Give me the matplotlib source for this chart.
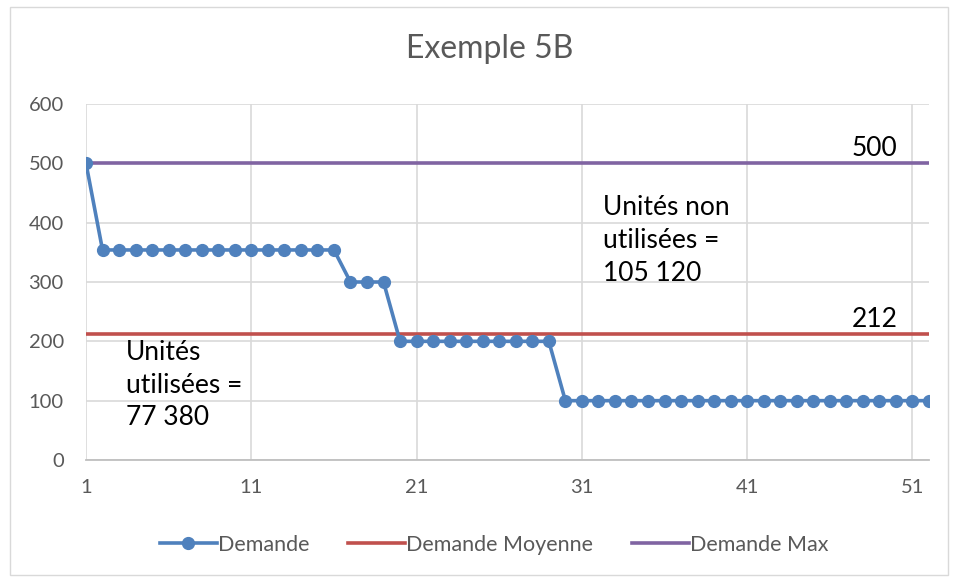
import matplotlib
matplotlib.use("Agg")
import matplotlib.pyplot as plt
from matplotlib.patches import Rectangle

plt.rcParams['font.family'] = ['Lato', 'DejaVu Sans']

semaines = list(range(1, 53))
demande = [500] + [354] * 15 + [300] * 3 + [200] * 10 + [100] * 23
demande_moyenne = [212] * 52
demande_max = [500] * 52
x_ticks = [1, 11, 21, 31, 41, 51]
y_ticks = [0, 100, 200, 300, 400, 500, 600]

blue = '#4F81BD'
red = '#C0504D'
purple = '#8064A2'
txt = '#595959'

fig = plt.figure(figsize=(9.56, 5.77), dpi=100)
ax = fig.add_axes([86/956, 1 - 460/577, (929-86)/956, (460-104)/577])

ax.plot(semaines, demande_max, color=purple, lw=2.6, label='Demande Max', zorder=2)
ax.plot(semaines, demande_moyenne, color=red, lw=2.6, label='Demande Moyenne', zorder=2)
ax.plot(semaines, demande, color=blue, lw=2.6, marker='o', ms=8.5, label='Demande', zorder=3)

ax.set_xlim(1, 52)
ax.set_ylim(0, 600)
ax.set_xticks(x_ticks)
ax.set_yticks(y_ticks)
ax.grid(True, color='#D9D9D9', lw=1.2, zorder=0)
ax.set_axisbelow(True)
for s in ['top', 'right', 'left']:
    ax.spines[s].set_visible(False)
ax.spines['bottom'].set_color('#BFBFBF')
ax.spines['bottom'].set_linewidth(1.3)
ax.tick_params(length=0, labelsize=14.5, colors=txt)
ax.tick_params(axis='y', pad=16)
ax.tick_params(axis='x', pad=14)

fig.text(490/956, 1 - 49/577, 'Exemple 5B', ha='center', va='center', fontsize=23, color=txt)

ax.text(50.1, 504, '500', ha='right', va='bottom', fontsize=19, color='black')
ax.text(50.1, 216, '212', ha='right', va='bottom', fontsize=19, color='black')
ax.text(32.3, 446, 'Unités non\nutilisées =\n105 120', ha='left', va='top', fontsize=19,
        color='black', linespacing=1.38)
ax.text(3.4, 202, 'Unités\nutilisées =\n77 380', ha='left', va='top', fontsize=19,
        color='black', linespacing=1.38)

handles, labels = ax.get_legend_handles_labels()
order = [2, 1, 0]
leg = fig.legend([handles[i] for i in order], [labels[i] for i in order],
                 loc='center', bbox_to_anchor=(494/956, 1 - 545/577), ncol=3,
                 frameon=False, fontsize=15.5, handlelength=2.65, handletextpad=0.05,
                 columnspacing=1.8, labelcolor=txt)

fig.patches.append(Rectangle((10/956, 2/577), 938/956, 568/577, transform=fig.transFigure,
                             fill=False, edgecolor='#D9D9D9', lw=1))

fig.savefig('out.png', dpi=100)
